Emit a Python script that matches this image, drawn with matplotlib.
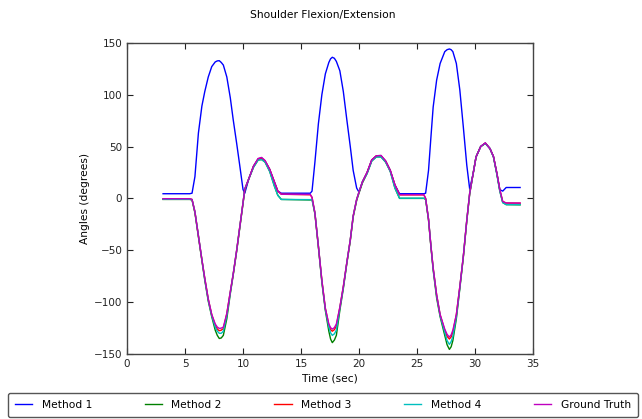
import matplotlib
matplotlib.use('Agg')
import matplotlib.pyplot as plt

# time samples (sec), shared by all series
t = [3.1, 5.4,
     5.6, 5.85, 6.15, 6.45, 6.7, 7.0, 7.3, 7.6, 7.78, 7.95, 8.12, 8.3, 8.6, 8.9, 9.15, 9.45, 9.7, 10.0, 10.15,
     10.5, 10.9, 11.3, 11.6, 11.9, 12.3, 12.7, 13.0, 13.3,
     15.8,
     15.95, 16.2, 16.5, 16.8, 17.1, 17.4, 17.55, 17.7, 17.88, 18.05, 18.35, 18.65, 18.95, 19.25, 19.5, 19.8, 20.0,
     20.3, 20.7, 21.1, 21.5, 21.9, 22.3, 22.7, 23.1, 23.5,
     25.6,
     25.75, 26.0, 26.2, 26.4, 26.7, 27.0, 27.4, 27.6, 27.8, 27.95, 28.1, 28.4, 28.7, 29.0, 29.3, 29.55,
     29.85, 30.1, 30.5, 30.9, 31.3, 31.6, 31.9, 32.15, 32.4, 32.7, 33.9]

method1 = [4.5, 4.5,
           5, 21, 63, 89, 103, 117, 127, 131.5, 132.5, 132.7, 131, 128.5, 117, 97, 76, 53, 33, 8.5, 5,
           19, 31, 38, 38.8, 36, 28, 16, 7, 5,
           5,
           7, 35, 72, 100, 120, 131, 134.5, 136, 135, 132, 123, 103, 76, 50, 27, 10, 6,
           16, 25, 37, 41, 41, 36, 27, 13, 4.5,
           4.5,
           5, 27, 58, 88, 114, 130, 141.4, 143.3, 144, 143.3, 141.4, 130, 104.5, 69, 32, 9,
           24, 40, 50, 53.3, 48, 40.4, 24, 8.4, 7, 10.5, 10.5]

method2 = [-1, -1,
           -1.5, -14, -37, -60, -79, -99, -114, -127, -132, -135, -134.5, -132, -116, -92, -74, -51, -30, -5, 8,
           19, 30, 37, 37.5, 35, 26, 12, 3, -1,
           -1.5,
           -1, -15, -47, -81, -108, -128, -135.5, -139, -136.5, -132, -108, -87, -63, -41, -18, -2, 5,
           15, 24, 36, 40, 40, 35, 26, 10, 0,
           0,
           -1, -21, -46, -69, -96, -114, -132, -141, -145.5, -143, -137, -116, -87, -57, -22, 4,
           24, 40, 50, 53, 48, 40, 23, 7, -4, -6, -6.2]

method3 = [-0.5, -0.5,
           -1, -13, -36, -59, -77, -97, -112, -122, -126, -127.5, -127, -125.5, -111, -90, -73, -50, -29, -4, 9,
           19, 31, 38, 39, 36, 28, 16, 7, 4,
           3.5,
           1, -14, -46, -79, -106, -122, -126.5, -128, -126.5, -123, -105, -85, -62, -40, -17, -1, 6,
           16, 25, 37, 41, 41, 36, 27, 13, 3.4,
           3.4,
           0, -20, -45, -67, -93, -112, -127, -133, -135.5, -133.5, -129, -112, -85, -56, -21, 5,
           24, 40, 50, 53.3, 48, 40.4, 24, 8.4, -3, -4.5, -4.6]

method4 = [-0.8, -0.8,
           -1.2, -13, -36, -59, -78, -98, -113, -124, -128, -130, -130, -128, -113, -91, -73, -50, -29, -4, 9,
           19, 30, 37, 37.5, 35, 26, 12, 3, -1,
           -1.2,
           -1, -14, -46, -80, -107, -124, -129.5, -132, -130.5, -127, -106, -86, -62, -40, -17, -1, 6,
           16, 24, 36, 40, 40, 35, 26, 10, 0.2,
           0.2,
           -0.5, -20, -45, -68, -94, -113, -129, -137, -140.7, -138, -133, -114, -86, -56, -21, 5,
           24, 40, 50, 53, 48, 40, 23, 7, -4, -6, -6]

ground_truth = [-0.3, -0.3,
                -1, -13, -36, -59, -77, -97, -112, -121, -124, -125.3, -125, -124, -111, -90, -73, -50, -29, -4, 9,
                19, 31, 38.5, 39.5, 36.5, 28, 16, 7, 4,
                3.8,
                1, -14, -46, -79, -106, -121, -124.5, -126, -124.5, -121, -105, -85, -62, -40, -17, -1, 6,
                16, 25, 37, 41, 41.5, 36, 27, 13, 3.6,
                3.6,
                0, -20, -45, -67, -93, -112, -126, -131, -133.6, -131.5, -127, -112, -85, -56, -21, 5,
                24, 40, 50, 53.5, 48, 40.4, 24, 8.4, -3, -4.4, -4.5]

series = [method1, method2, method3, method4, ground_truth]
labels = ['Method 1', 'Method 2', 'Method 3', 'Method 4', 'Ground Truth']
colors = ['b', 'g', 'r', 'c', 'm']

fig = plt.figure(figsize=(6.42, 4.19), dpi=100)
ax = fig.add_axes([0.198, 0.155, 0.632, 0.743])

lines = []
for y, lab, col in zip(series, labels, colors):
    ln, = ax.plot(t, y, color=col, linewidth=1.0, label=lab)
    lines.append(ln)

ax.set_xlim(0, 35)
ax.set_ylim(-150, 150)
ax.set_xticks(range(0, 36, 5))
ax.set_yticks(range(-150, 151, 50))
ax.tick_params(direction='in', top=True, right=True, length=4, width=0.8,
               labelsize=7.5, pad=3.5, colors='#222222')
for sp in ax.spines.values():
    sp.set_color('#444444')
    sp.set_linewidth(1.0)

ax.set_xlabel('Time (sec)', fontsize=7.7, labelpad=3)
ax.set_ylabel('Angles (degrees)', fontsize=7.7, labelpad=3)
fig.suptitle('Shoulder Flexion/Extension', x=0.503, y=0.964, va='center', fontsize=7.7)

fig.legend(lines, labels, loc='lower left', bbox_to_anchor=(0.0125, 0.005, 0.981, 0.06),
           ncol=5, mode='expand', fontsize=7.7, borderaxespad=0, borderpad=0.65,
           handlelength=1.6, handletextpad=0.9, fancybox=True, framealpha=1,
           edgecolor='#555555')

fig.savefig('out.png', dpi=100)
